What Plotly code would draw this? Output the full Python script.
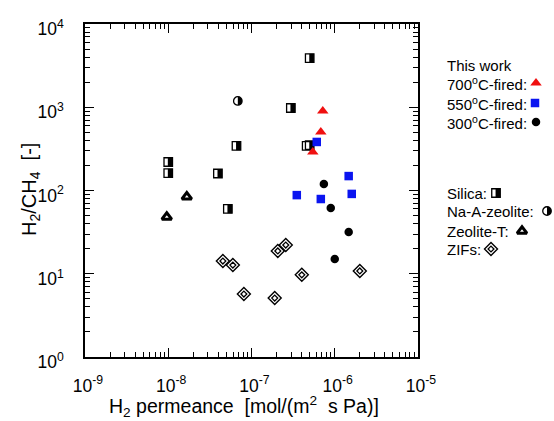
import plotly.graph_objects as go

W, H = 554, 421

# H2 permeance [mol/(m2 s Pa)] and H2/CH4 permselectivity, by membrane family
silica_perm = [5.0e-7, 2.97e-7, 6.6e-8, 4.6e-7, 5.0e-7, 1.0e-8, 1.0e-8, 3.95e-8, 5.2e-8]
silica_sel = [3900, 980, 343, 343, 350, 220, 162, 160, 60]

naa_perm = [6.85e-8]
naa_sel = [1190]

zeot_perm = [9.6e-9, 1.67e-8]
zeot_sel = [48, 84]

zif_perm = [4.53e-8, 5.97e-8, 8.1e-8, 1.9e-7, 2.07e-7, 2.58e-7, 4.02e-7, 2.0e-6]
zif_sel = [14.2, 12.7, 5.7, 5.1, 18.8, 22.1, 9.7, 10.8]

# this work
fired700_perm = [7.18e-7, 6.8e-7, 5.45e-7]
fired700_sel = [902, 505, 290]

fired550_perm = [6.08e-7, 1.47e-6, 3.5e-7, 6.8e-7, 1.6e-6]
fired550_sel = [383, 149, 88, 79, 91]

fired300_perm = [7.4e-7, 8.95e-7, 1.47e-6, 1.0e-6]
fired300_sel = [120, 61.7, 31.7, 15]

x_decades = [-9, -8, -7, -6, -5]
y_decades = [0, 1, 2, 3, 4]
x_ticktext = ["10<sup>-9</sup>", "10<sup>-8</sup>", "10<sup>-7</sup>", "10<sup>-6</sup>", "10<sup>-5</sup>"]
y_ticktext = ["10<sup>0</sup>", "10<sup>1</sup>", "10<sup>2</sup>", "10<sup>3</sup>", "10<sup>4</sup>"]

FONT = "Liberation Sans, Arial, sans-serif"
BLUE = "#0a14f0"
RED = "#f01010"

fig = go.Figure()


def half_filled(x, y, shape, size, white_frac, xa="x", ya="y"):
    """Marker whose left part is white and right part black, with a black outline."""
    common = dict(x=x, y=y, mode="markers", xaxis=xa, yaxis=ya,
                  showlegend=False, hoverinfo="skip", cliponaxis=False)
    fig.add_trace(go.Scatter(marker=dict(symbol=shape, size=size, color="black",
                                         line=dict(width=0)), **common))
    strip = size * white_frac
    fig.add_trace(go.Scatter(marker=dict(symbol="line-ew", size=size, angle=90,
                                         standoff=size / 2 - strip / 2,
                                         line=dict(color="white", width=strip)), **common))
    fig.add_trace(go.Scatter(marker=dict(symbol=shape + "-open", size=size, color="black",
                                         line=dict(color="black", width=1.3)), **common))


def zif_marker(x, y, xa="x", ya="y"):
    common = dict(x=x, y=y, mode="markers", xaxis=xa, yaxis=ya,
                  showlegend=False, hoverinfo="skip", cliponaxis=False)
    fig.add_trace(go.Scatter(marker=dict(symbol="diamond", size=10, color="white",
                                         line=dict(color="black", width=1.4)), **common))
    fig.add_trace(go.Scatter(marker=dict(symbol="diamond-open", size=4.5, color="black",
                                         line=dict(color="black", width=1.3)), **common))


def zeot_marker(x, y, xa="x", ya="y"):
    fig.add_trace(go.Scatter(x=x, y=y, mode="markers", xaxis=xa, yaxis=ya,
                             showlegend=False, hoverinfo="skip", cliponaxis=False,
                             marker=dict(symbol="triangle-up-open", size=8.5, color="black",
                                         line=dict(color="black", width=3))))


def solid(x, y, symbol, size, color, xa="x", ya="y"):
    fig.add_trace(go.Scatter(x=x, y=y, mode="markers", xaxis=xa, yaxis=ya,
                             showlegend=False, hoverinfo="skip", cliponaxis=False,
                             marker=dict(symbol=symbol, size=size, color=color,
                                         line=dict(width=0))))


# literature data
half_filled(silica_perm, silica_sel, "square", 8.5, 0.45)
half_filled(naa_perm, naa_sel, "circle", 8.5, 0.5)
zeot_marker(zeot_perm, zeot_sel)
zif_marker(zif_perm, zif_sel)

# this work
solid(fired300_perm, fired300_sel, "circle", 8.5, "black")
solid(fired550_perm, fired550_sel, "square", 8.5, BLUE)
solid(fired700_perm, fired700_sel, "triangle-up", 10, RED)

# key drawn on a full-canvas pixel overlay
key_text_x = 445
key_rows = [
    ("This work", 65, None),
    ("700<sup>o</sup>C-fired:", 83, ("tri", 536)),
    ("550<sup>o</sup>C-fired:", 103, ("sq", 535)),
    ("300<sup>o</sup>C-fired:", 122, ("circ", 536)),
    ("Silica:", 193, ("silica", 496)),
    ("Na-A-zeolite:", 211, ("naa", 547)),
    ("Zeolite-T:", 231, ("zeot", 522)),
    ("ZIFs:", 249, ("zif", 491)),
]
for text, ky, mk in key_rows:
    fig.add_annotation(x=key_text_x, y=ky, xref="x2", yref="y2", text=text,
                       showarrow=False, xanchor="left", yanchor="middle",
                       font=dict(family=FONT, size=15, color="black"))
    if mk is None:
        continue
    kind, kx = mk
    if kind == "tri":
        solid([kx], [ky], "triangle-up", 10, RED, "x2", "y2")
    elif kind == "sq":
        solid([kx], [ky], "square", 8.5, BLUE, "x2", "y2")
    elif kind == "circ":
        solid([kx], [ky], "circle", 8.5, "black", "x2", "y2")
    elif kind == "silica":
        half_filled([kx], [ky], "square", 8.5, 0.45, "x2", "y2")
    elif kind == "naa":
        half_filled([kx], [ky], "circle", 8.5, 0.5, "x2", "y2")
    elif kind == "zeot":
        zeot_marker([kx], [ky], "x2", "y2")
    elif kind == "zif":
        zif_marker([kx], [ky], "x2", "y2")

# axis titles, placed on the pixel overlay
fig.add_annotation(x=30, y=190, xref="x2", yref="y2", textangle=-90,
                   text="H<sub>2</sub>/CH<sub>4</sub>  [-]", showarrow=False,
                   xanchor="center", yanchor="middle",
                   font=dict(family=FONT, size=20, color="black"))
fig.add_annotation(x=244, y=406, xref="x2", yref="y2",
                   text="H<sub>2</sub> permeance  [mol/(m<sup>2</sup>  s Pa)]",
                   showarrow=False, xanchor="center", yanchor="middle",
                   font=dict(family=FONT, size=19.5, color="black"))

x_minor = [m * 10.0 ** e for e in x_decades[:-1] for m in range(2, 10)]
y_minor = [m * 10.0 ** e for e in y_decades[:-1] for m in range(2, 10)]


def log_axis(minor_vals):
    return dict(
        type="log", showline=True, linecolor="black", linewidth=1.5, mirror="ticks",
        ticks="inside", ticklen=9, tickwidth=1, tickcolor="black",
        showgrid=False, zeroline=False, automargin=False,
        tickfont=dict(family=FONT, size=17.5, color="black"),
        minor=dict(ticks="inside", ticklen=5, tickwidth=1, tickcolor="black",
                   tickmode="array", tickvals=minor_vals, showgrid=False),
    )


fig.update_layout(
    width=W, height=H,
    margin=dict(l=0, r=0, t=0, b=0, autoexpand=False),
    paper_bgcolor="white", plot_bgcolor="rgba(0,0,0,0)",
    font=dict(family=FONT, color="black"),
    showlegend=False,
    xaxis=dict(
        **log_axis(x_minor),
        domain=[85 / W, 418 / W], anchor="y",
        range=[-9, -5],
        tickvals=[10.0 ** e for e in x_decades], ticktext=x_ticktext,
        ticklabelstandoff=12, ticklabelshift=3,
    ),
    yaxis=dict(
        **log_axis(y_minor),
        domain=[1 - 357 / H, 1 - 24 / H], anchor="x",
        range=[0, 4],
        tickvals=[10.0 ** e for e in y_decades], ticktext=y_ticktext,
        ticklabelstandoff=16, ticklabelshift=5,
    ),
    xaxis2=dict(domain=[0, 1], range=[0, W], visible=False, anchor="y2",
                fixedrange=True),
    yaxis2=dict(domain=[0, 1], range=[H, 0], visible=False, anchor="x2",
                fixedrange=True),
)

fig.write_html("out.html")
